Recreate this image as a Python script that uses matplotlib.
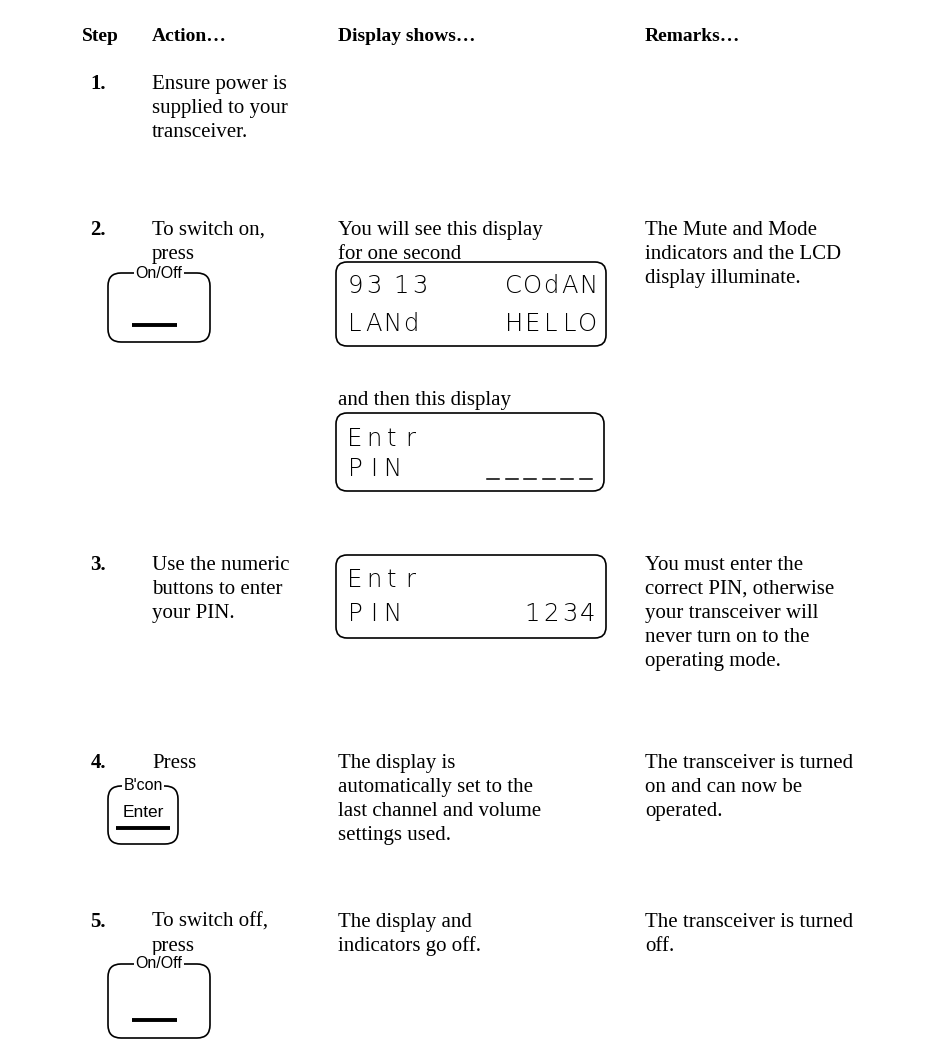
import matplotlib.pyplot as plt
from matplotlib.patches import FancyBboxPatch

# page text
headers = ['Step', 'Action…', 'Display shows…', 'Remarks…']
steps = ['1.', '2.', '3.', '4.', '5.']
actions = [['Ensure power is', 'supplied to your', 'transceiver.'],
           ['To switch on,', 'press'],
           ['Use the numeric', 'buttons to enter', 'your PIN.'],
           ['Press'],
           ['To switch off,', 'press']]
displays = [[],
            ['You will see this display', 'for one second'],
            [],
            ['The display is', 'automatically set to the',
             'last channel and volume', 'settings used.'],
            ['The display and', 'indicators go off.']]
remarks = [[],
           ['The Mute and Mode', 'indicators and the LCD', 'display illuminate.'],
           ['You must enter the', 'correct PIN, otherwise', 'your transceiver will',
            'never turn on to the', 'operating mode.'],
           ['The transceiver is turned', 'on and can now be', 'operated.'],
           ['The transceiver is turned', 'off.']]
then_text = 'and then this display'

# LCD contents (left part, right part) per line
lcd_hello = [('93 13', 'COdAN'), ('LANd', 'HELLO')]
lcd_entr = [('Entr', ''), ('PIN', '______')]
lcd_pin = [('Entr', ''), ('PIN', '1234')]

W, H = 928, 1058
fig = plt.figure(figsize=(W / 100, H / 100), dpi=100)
ax = fig.add_axes([0, 0, 1, 1])
ax.set_xlim(0, W)
ax.set_ylim(H, 0)
ax.axis('off')

serif = 'Liberation Serif'
sans = 'Liberation Sans'
fs = 15
lh = 24

X_STEP, X_ACT, X_DISP, X_REM = 106, 152, 338, 645
row_y = [89, 235, 570, 768, 927]   # baselines of first line

ax.text(82, 41, headers[0], fontfamily=serif, fontweight='bold', fontsize=14, ha='left')
ax.text(X_ACT, 41, headers[1], fontfamily=serif, fontweight='bold', fontsize=14, ha='left')
ax.text(X_DISP, 41, headers[2], fontfamily=serif, fontweight='bold', fontsize=14, ha='left')
ax.text(X_REM, 41, headers[3], fontfamily=serif, fontweight='bold', fontsize=14, ha='left')


def lines(x, y, txts):
    for i, t in enumerate(txts):
        ax.text(x, y + i * lh, t, fontfamily=serif, fontsize=fs, ha='left', va='baseline')


for i in range(len(steps)):
    ax.text(X_STEP, row_y[i], steps[i], fontfamily=serif, fontweight='bold',
            fontsize=fs, ha='right', va='baseline')
    lines(X_ACT, row_y[i], actions[i])
    lines(X_DISP, row_y[i], displays[i])
    lines(X_REM, row_y[i], remarks[i])

ax.text(X_DISP, 405, then_text, fontfamily=serif, fontsize=fs, ha='left', va='baseline')


def button(x0, y0, w, h, label, face=None):
    box = FancyBboxPatch((x0, y0), w, h, boxstyle='round,pad=0,rounding_size=13',
                         fc='none', ec='black', lw=1.2)
    ax.add_patch(box)
    ax.text(x0 + w / 2, y0, label, fontfamily=sans, fontsize=11.5, ha='center', va='center',
            bbox=dict(fc='white', ec='none', pad=1.0))
    if face is None:
        ax.plot([x0 + w * 0.24, x0 + w * 0.68], [y0 + h * 0.75] * 2, color='black', lw=2.8,
                solid_capstyle='butt')
    else:
        ax.text(x0 + w / 2, y0 + h * 0.45, face, fontfamily=sans, fontsize=12.5,
                ha='center', va='center')
        ax.plot([x0 + 8, x0 + w - 8], [y0 + h * 0.73] * 2, color='black', lw=2.8,
                solid_capstyle='butt')


def lcd(x0, y0, w, h, content, ly):
    box = FancyBboxPatch((x0, y0), w, h, boxstyle='round,pad=0,rounding_size=11',
                         fc='none', ec='black', lw=1.2)
    ax.add_patch(box)
    pitch = 18.5
    for (left, right), yy in zip(content, ly):
        cx = x0 + 19
        for ch in left:
            if ch == ' ':
                cx += pitch * 0.5
                continue
            ax.text(cx, yy, ch, fontfamily='DejaVu Sans', fontsize=17.5, ha='center',
                    va='center', fontweight='light')
            cx += pitch
        cx = x0 + w - 18
        for ch in reversed(right):
            if ch == '_':
                ax.plot([cx - 6, cx + 6], [yy + 10] * 2, color='black', lw=1.1)
            else:
                ax.text(cx, yy, ch, fontfamily='DejaVu Sans', fontsize=17.5, ha='center',
                        va='center', fontweight='light')
            cx -= pitch


button(108, 273, 102, 69, 'On/Off')
lcd(336, 262, 270, 84, lcd_hello, [286, 324])
lcd(336, 413, 268, 78, lcd_entr, [439, 469])
lcd(336, 555, 270, 83, lcd_pin, [580, 614])
button(108, 786, 70, 58, "B'con", 'Enter')
button(108, 964, 102, 74, 'On/Off')

fig.savefig('out.png', dpi=100, facecolor='white')
